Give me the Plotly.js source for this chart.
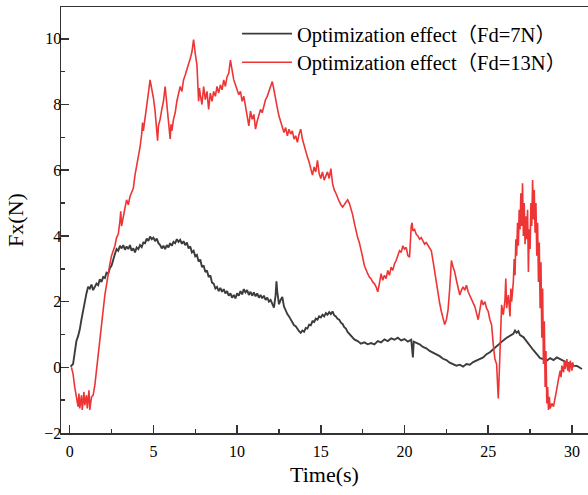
<!DOCTYPE html>
<html>
<head>
<meta charset="utf-8">
<script src="https://cdn.plot.ly/plotly-3.0.1.min.js"></script>
<style>html,body{margin:0;padding:0;background:#fff;}#chart{width:588px;height:495px;}</style>
</head>
<body>
<div id="chart"></div>
<script>
// Series 1: Optimization effect (Fd=7N)
var t7 = [0.05,0.2,0.3,0.4,0.5,0.6,0.7,0.8,0.9,1.0,1.1,1.2,1.3,1.4,1.5,1.6,1.7,1.8,1.9,2.0,2.1,2.2,2.3,2.4,2.5,2.6,2.7,2.8,2.9,3.0,3.1,3.2,3.3,3.4,3.5,3.6,3.7,3.8,3.9,4.0,4.1,4.2,4.3,4.4,4.5,4.6,4.7,4.8,4.9,5.0,5.1,5.2,5.3,5.4,5.5,5.6,5.7,5.8,5.9,6.0,6.1,6.2,6.3,6.4,6.5,6.6,6.7,6.8,6.9,7.0,7.1,7.2,7.3,7.4,7.5,7.6,7.7,7.8,7.9,8.0,8.1,8.2,8.3,8.4,8.5,8.6,8.7,8.8,8.9,9.0,9.1,9.2,9.3,9.4,9.5,9.6,9.7,9.8,9.9,10.0,10.1,10.2,10.3,10.4,10.5,10.6,10.7,10.8,10.9,11.0,11.1,11.2,11.3,11.4,11.5,11.6,11.7,11.8,11.9,12.0,12.1,12.2,12.3,12.35,12.4,12.5,12.6,12.7,12.8,12.9,13.0,13.1,13.2,13.3,13.4,13.5,13.6,13.7,13.8,13.9,14.0,14.1,14.2,14.3,14.4,14.5,14.6,14.7,14.8,14.9,15.0,15.1,15.2,15.3,15.4,15.5,15.6,15.7,15.8,15.9,16.0,16.1,16.2,16.3,16.4,16.5,16.6,16.7,16.8,16.9,17.0,17.2,17.4,17.6,17.8,18.0,18.2,18.4,18.6,18.8,19.0,19.2,19.4,19.6,19.8,20.0,20.2,20.4,20.5,20.55,20.7,20.9,21.1,21.3,21.5,21.7,21.9,22.1,22.3,22.5,22.7,22.9,23.1,23.3,23.5,23.7,23.9,24.1,24.3,24.5,24.7,24.9,25.1,25.3,25.5,25.7,25.9,26.1,26.3,26.5,26.6,26.7,26.8,26.9,27.1,27.3,27.5,27.7,27.9,28.1,28.3,28.5,28.7,28.9,29.1,29.3,29.5,29.7,29.9,30.1,30.3,30.5,30.6];
var fx7 = [0.02,0.10,0.45,0.80,0.95,1.15,1.45,1.75,2.05,2.25,2.45,2.40,2.52,2.35,2.45,2.55,2.50,2.68,2.60,2.75,2.72,2.88,2.85,3.02,3.10,3.30,3.45,3.60,3.55,3.70,3.62,3.72,3.58,3.68,3.60,3.72,3.55,3.62,3.50,3.65,3.60,3.72,3.66,3.80,3.78,3.92,3.85,3.98,3.90,3.95,3.84,3.92,3.78,3.72,3.62,3.70,3.60,3.72,3.65,3.78,3.70,3.82,3.78,3.90,3.82,3.88,3.76,3.84,3.72,3.80,3.62,3.68,3.50,3.55,3.38,3.42,3.22,3.28,3.05,3.10,2.90,2.95,2.75,2.80,2.58,2.55,2.40,2.45,2.32,2.42,2.30,2.38,2.25,2.32,2.18,2.25,2.12,2.20,2.10,2.25,2.18,2.32,2.22,2.38,2.28,2.35,2.20,2.30,2.18,2.28,2.16,2.25,2.12,2.20,2.10,2.18,2.05,2.12,2.00,2.05,1.90,1.82,2.20,2.62,2.30,1.92,2.05,2.14,1.85,1.72,1.62,1.55,1.45,1.40,1.28,1.25,1.15,1.10,1.05,1.12,1.08,1.20,1.18,1.30,1.28,1.40,1.38,1.48,1.45,1.55,1.52,1.60,1.55,1.65,1.60,1.68,1.62,1.70,1.58,1.55,1.48,1.45,1.36,1.32,1.22,1.18,1.08,1.02,0.95,0.90,0.85,0.80,0.72,0.76,0.70,0.74,0.70,0.80,0.76,0.85,0.80,0.88,0.84,0.90,0.82,0.86,0.78,0.84,0.30,0.78,0.74,0.70,0.62,0.58,0.50,0.45,0.38,0.34,0.26,0.22,0.14,0.10,0.05,0.08,0.02,0.10,0.08,0.16,0.20,0.26,0.30,0.40,0.46,0.55,0.65,0.75,0.82,0.90,0.95,1.02,1.12,1.05,1.10,0.98,0.92,0.78,0.65,0.52,0.40,0.28,0.25,0.20,0.28,0.22,0.30,0.24,0.20,0.14,0.12,0.05,0.04,-0.02,-0.05];

// Series 2: Optimization effect (Fd=13N)
var t13 = [0.1,0.2,0.3,0.4,0.5,0.55,0.6,0.7,0.75,0.85,0.9,1.0,1.05,1.15,1.2,1.3,1.4,1.5,1.6,1.7,1.8,1.9,2.0,2.1,2.2,2.3,2.4,2.5,2.6,2.7,2.8,2.9,3.0,3.05,3.1,3.2,3.3,3.4,3.5,3.6,3.7,3.8,3.9,4.0,4.1,4.2,4.3,4.35,4.4,4.5,4.6,4.7,4.8,4.9,5.0,5.1,5.2,5.25,5.3,5.4,5.5,5.6,5.7,5.75,5.8,5.9,6.0,6.05,6.1,6.2,6.3,6.4,6.5,6.6,6.7,6.8,6.9,7.0,7.1,7.2,7.3,7.4,7.5,7.6,7.7,7.75,7.8,7.9,8.0,8.1,8.2,8.3,8.4,8.5,8.6,8.7,8.8,8.9,9.0,9.1,9.2,9.3,9.4,9.5,9.6,9.7,9.8,9.9,10.0,10.1,10.2,10.3,10.4,10.5,10.6,10.7,10.8,10.9,11.0,11.1,11.2,11.3,11.4,11.5,11.6,11.7,11.8,11.9,12.0,12.1,12.2,12.3,12.4,12.5,12.6,12.7,12.8,12.9,13.0,13.1,13.2,13.3,13.4,13.5,13.6,13.7,13.8,13.9,14.0,14.1,14.2,14.3,14.4,14.5,14.6,14.7,14.8,14.9,15.0,15.1,15.2,15.3,15.4,15.5,15.6,15.7,15.8,15.9,16.0,16.1,16.2,16.3,16.4,16.5,16.6,16.7,16.8,16.9,17.0,17.1,17.2,17.3,17.4,17.5,17.6,17.7,17.8,17.9,18.0,18.1,18.2,18.3,18.4,18.5,18.6,18.7,18.8,18.9,19.0,19.1,19.2,19.3,19.4,19.5,19.6,19.7,19.8,19.9,20.0,20.1,20.2,20.3,20.4,20.45,20.5,20.6,20.7,20.8,20.9,21.0,21.1,21.2,21.3,21.4,21.5,21.6,21.7,21.8,21.9,22.0,22.1,22.2,22.3,22.4,22.5,22.6,22.7,22.8,22.9,23.0,23.1,23.2,23.3,23.4,23.5,23.6,23.7,23.8,23.9,24.0,24.1,24.2,24.3,24.4,24.5,24.6,24.7,24.8,24.9,25.0,25.1,25.2,25.3,25.4,25.5,25.55,25.6,25.65,25.7,25.8,25.9,26.0,26.05,26.1,26.2,26.3,26.35,26.4,26.5,26.55,26.6,26.65,26.7,26.75,26.8,26.85,26.9,26.95,27.0,27.05,27.1,27.15,27.2,27.25,27.3,27.35,27.4,27.45,27.5,27.55,27.6,27.65,27.7,27.75,27.8,27.85,27.9,27.95,28.0,28.05,28.1,28.15,28.2,28.25,28.3,28.35,28.4,28.45,28.5,28.55,28.6,28.65,28.7,28.8,28.9,29.0,29.1,29.2,29.3,29.35,29.4,29.5,29.55,29.6,29.7,29.75,29.8,29.85,29.9,30.0,30.05,30.1];
var fx13 = [0.0,-0.2,-0.6,-0.95,-1.2,-0.8,-1.25,-0.85,-1.3,-0.75,-1.15,-0.85,-1.25,-0.7,-1.3,-0.9,-0.85,-0.55,-0.05,0.35,0.85,1.30,1.75,2.20,2.55,2.95,3.15,3.40,3.55,3.70,3.95,4.05,4.45,4.75,4.30,4.65,4.85,5.10,4.95,5.20,5.35,5.45,5.85,6.10,6.40,6.70,7.10,7.45,7.20,7.65,7.95,8.35,8.75,8.50,8.20,7.80,7.30,6.90,7.35,7.55,7.85,8.10,8.55,8.25,8.00,7.55,6.95,7.40,7.20,7.55,7.75,8.10,8.35,8.55,8.40,8.75,8.90,9.05,9.25,9.40,9.60,9.98,9.55,9.20,8.10,8.50,8.30,8.00,8.55,8.15,8.40,7.85,8.35,8.10,8.40,8.25,8.55,8.35,8.60,8.45,8.75,8.55,8.85,8.95,9.35,9.05,8.75,8.60,8.45,8.30,8.40,8.10,8.25,7.95,7.70,7.35,7.80,7.55,7.70,7.25,7.50,7.70,7.85,7.75,8.00,8.15,8.25,8.40,8.55,8.70,8.45,8.10,7.90,7.65,7.50,7.35,7.15,7.30,7.05,7.25,7.10,7.20,6.95,7.05,6.85,7.10,7.25,6.95,6.75,6.55,6.40,6.25,6.05,5.85,6.10,5.95,6.30,5.90,5.75,5.95,5.70,5.85,5.95,5.75,6.05,5.60,5.40,5.30,5.15,5.05,4.95,4.88,4.95,5.05,5.10,5.00,4.85,4.65,4.40,4.15,3.95,3.80,3.60,3.35,3.10,2.95,2.85,2.75,2.70,2.60,2.55,2.45,2.30,2.55,2.85,2.65,2.80,2.70,2.95,2.80,3.05,2.95,3.15,3.25,3.40,3.55,3.50,3.70,3.60,3.65,3.40,3.35,4.30,4.40,4.15,4.20,4.05,4.00,3.90,3.95,3.85,3.75,3.80,3.70,3.65,3.55,3.25,2.90,2.55,2.20,1.95,1.70,1.50,1.30,1.45,1.75,2.40,3.25,3.05,2.90,2.65,2.45,2.20,2.35,2.45,2.35,2.50,2.30,2.20,2.10,1.95,1.85,1.65,1.45,1.75,2.05,1.90,2.00,1.80,1.70,1.45,1.30,0.70,0.25,0.10,-0.50,-0.95,-0.30,0.40,1.90,1.60,2.05,2.70,1.80,2.20,1.55,2.40,2.00,2.60,3.30,2.80,3.90,3.40,4.40,3.70,4.80,4.20,5.30,4.30,5.60,4.00,5.00,3.75,4.60,3.90,4.80,2.90,4.20,3.60,5.00,4.30,5.70,4.50,5.40,4.10,5.00,3.40,4.40,2.60,3.80,1.80,3.20,0.90,2.40,0.10,1.40,-0.60,0.50,-1.10,-0.60,-1.30,-0.90,-1.25,-1.10,-1.20,-0.85,-0.65,-0.35,-0.10,-0.30,0.05,-0.15,0.20,-0.05,0.25,-0.10,0.15,-0.15,0.20,-0.10,0.15,0.00];

var cjk = 'Noto Sans CJK SC';
var seriesNames = [
  'Optimization effect<span style="font-family:' + cjk + '">（</span>Fd=7N<span style="font-family:' + cjk + '">）</span>',
  'Optimization effect<span style="font-family:' + cjk + '">（</span>Fd=13N<span style="font-family:' + cjk + '">）</span>'
];
var xTitle = 'Time(s)';
var yTitle = 'Fx(N)';

var serif = 'Liberation Serif, Times New Roman, serif';

var traces = [
  {x: t7, y: fx7, type: 'scatter', mode: 'lines', name: seriesNames[0], legend: 'legend',
   line: {color: '#3c3c3c', width: 1.9}},
  {x: t13, y: fx13, type: 'scatter', mode: 'lines', name: seriesNames[1], legend: 'legend2',
   line: {color: '#ee3535', width: 1.6}}
];

var legendBase = {xanchor: 'left', yanchor: 'top', bgcolor: 'rgba(0,0,0,0)',
  font: {family: serif, size: 20.5, color: '#000'}, itemwidth: 50};

var layout = {
  width: 588, height: 495,
  margin: {l: 61, r: 0, t: 7, b: 62},
  paper_bgcolor: '#fff', plot_bgcolor: '#fff',
  font: {family: serif, color: '#000'},
  showlegend: true,
  legend: Object.assign({x: 0.334, y: 0.984}, legendBase),
  legend2: Object.assign({x: 0.334, y: 0.917}, legendBase),
  xaxis: {
    range: [-0.52, 30.96], tick0: 0, dtick: 5, ticks: 'inside', ticklen: 8, tickwidth: 1.5,
    tickcolor: '#333', showline: true, linecolor: '#333', linewidth: 1.5, mirror: true,
    showgrid: false, zeroline: false, ticklabelstandoff: 3,
    tickfont: {family: serif, size: 16, color: '#000'},
    minor: {dtick: 2.5, ticks: 'inside', ticklen: 4, tickwidth: 1.5, tickcolor: '#333', showgrid: false},
    title: {text: xTitle, font: {family: serif, size: 22, color: '#000'}, standoff: 8}
  },
  yaxis: {
    range: [-2, 10.97], tick0: 0, dtick: 2, ticks: 'inside', ticklen: 8, tickwidth: 1.5,
    tickcolor: '#333', showline: true, linecolor: '#333', linewidth: 1.5, mirror: false,
    showgrid: false, zeroline: false, ticklabelstandoff: -5,
    tickfont: {family: serif, size: 16, color: '#000'},
    minor: {dtick: 1, ticks: 'inside', ticklen: 4, tickwidth: 1.5, tickcolor: '#333', showgrid: false},
    title: {text: yTitle, font: {family: serif, size: 22, color: '#000'}, standoff: 14}
  }
};

Plotly.newPlot('chart', traces, layout, {displayModeBar: false, staticPlot: true});
</script>
</body>
</html>
